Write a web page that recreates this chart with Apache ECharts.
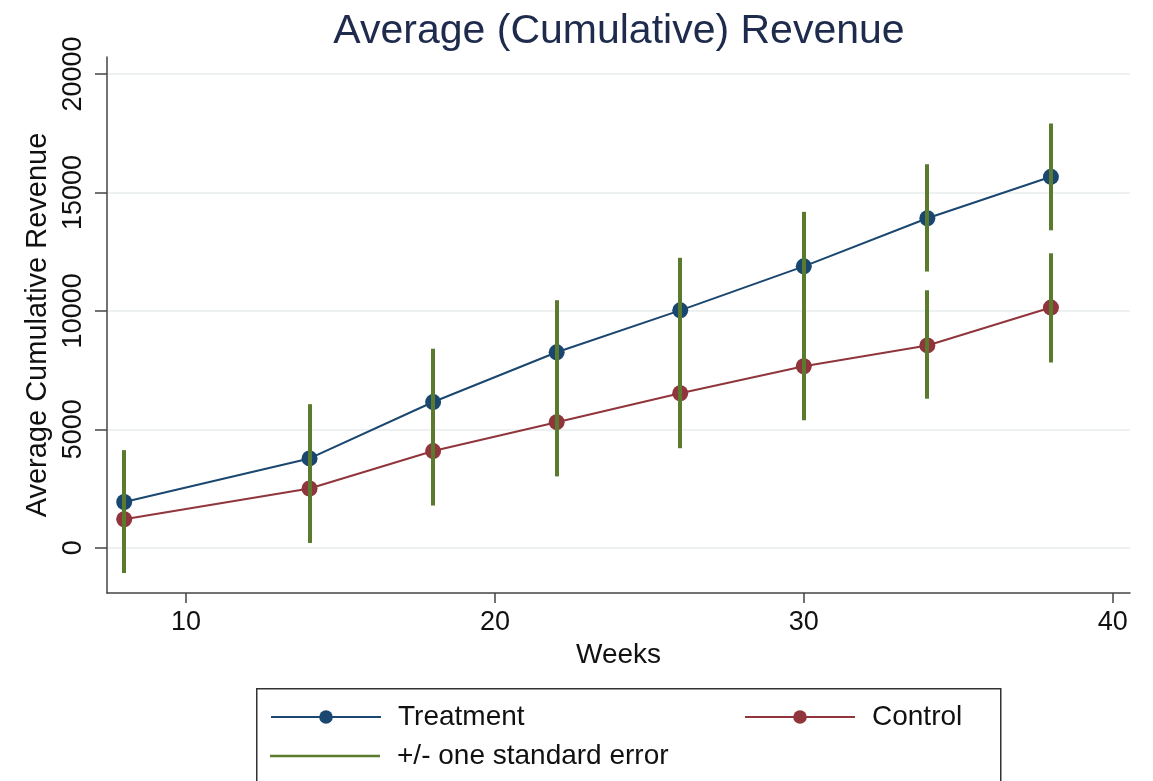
<!DOCTYPE html>
<html>
<head>
<meta charset="utf-8">
<script src="https://cdn.jsdelivr.net/npm/echarts@6/dist/echarts.min.js"></script>
<style>
  html, body { margin: 0; padding: 0; background: #ffffff; }
  #chart { width: 1153px; height: 781px; }
</style>
</head>
<body>
<div id="chart"></div>
<script>
// ---- data ----
const weeks = [8, 14, 18, 22, 26, 30, 34, 38];
const treatment = [1930, 3770, 6150, 8250, 10020, 11880, 13910, 15660];
const control = [1200, 2500, 4080, 5300, 6520, 7660, 8540, 10140];
const treatmentLower = [-260, 1480, 3900, 6050, 7800, 9580, 11660, 13400];
const treatmentUpper = [4120, 6060, 8400, 10450, 12240, 14180, 16190, 17910];
const controlLower = [-1070, 200, 1780, 3010, 4200, 5380, 6290, 7820];
const controlUpper = [3470, 4800, 6380, 7590, 8840, 9940, 10870, 12430];
const xTicks = [10, 20, 30, 40];
const yTicks = [0, 5000, 10000, 15000, 20000];

const navy = '#1a476f';
const maroon = '#90353b';
const green = '#5a7a2e';
const font = 'Liberation Sans, Arial, Helvetica, sans-serif';

const chart = echarts.init(document.getElementById('chart'), null, { renderer: 'canvas' });

// draws the two +/- SE spikes at one week; overlapping spikes are merged into one
function errBars(params, api) {
  const x = api.value(0);
  let ranges = [[api.value(1), api.value(2)], [api.value(3), api.value(4)]]
    .map(r => [Math.min(r[0], r[1]), Math.max(r[0], r[1])])
    .sort((a, b) => a[0] - b[0]);
  const merged = [];
  ranges.forEach(r => {
    const last = merged[merged.length - 1];
    if (last && r[0] <= last[1]) { last[1] = Math.max(last[1], r[1]); }
    else { merged.push([r[0], r[1]]); }
  });
  const children = merged.map(r => {
    const p1 = api.coord([x, r[0]]);
    const p2 = api.coord([x, r[1]]);
    const cx = Math.round(p1[0]);
    return {
      type: 'rect',
      shape: { x: cx - 2, y: Math.min(p1[1], p2[1]), width: 4, height: Math.abs(p1[1] - p2[1]) },
      style: { fill: green }
    };
  });
  return { type: 'group', children: children };
}

const option = {
  backgroundColor: '#ffffff',
  animation: false,
  title: {
    text: 'Average (Cumulative) Revenue',
    left: 614,
    top: 6,
    textAlign: 'center',
    textStyle: { fontFamily: font, fontSize: 41, fontWeight: 'normal', color: '#1f2b4d' }
  },
  grid: { left: 107, right: 23, top: 57, bottom: 188, containLabel: false },
  xAxis: {
    type: 'value',
    min: 7.443,
    max: 40.56,
    name: 'Weeks',
    nameLocation: 'middle',
    nameGap: 48,
    nameTextStyle: { fontFamily: font, fontSize: 28, color: '#111' },
    axisLine: { show: true, onZero: false, lineStyle: { color: '#444', width: 1.5 } },
    axisTick: { show: true, length: 10, customValues: xTicks, lineStyle: { color: '#444', width: 1.5 } },
    axisLabel: { customValues: xTicks, margin: 16, fontFamily: font, fontSize: 27, color: '#111', formatter: v => String(v) },
    splitLine: { show: false }
  },
  yAxis: {
    type: 'value',
    min: -1913,
    max: 20718,
    name: 'Average Cumulative Revenue',
    nameLocation: 'middle',
    nameGap: 54,
    nameTextStyle: { fontFamily: font, fontSize: 29, color: '#111' },
    axisLine: { show: true, onZero: false, lineStyle: { color: '#444', width: 1.5 } },
    axisTick: { show: true, length: 12, customValues: yTicks, lineStyle: { color: '#444', width: 1.5 } },
    axisLabel: { customValues: yTicks, rotate: 90, margin: 20, fontFamily: font, fontSize: 27, color: '#111', formatter: v => String(v) },
    splitLine: { show: true, lineStyle: { color: '#e8eced', width: 1.5 } }
  },
  legend: [
    {
      data: ['Treatment'], left: 270, top: 703, itemWidth: 110, itemHeight: 17,
      selectedMode: false, padding: 0,
      textStyle: { fontFamily: font, fontSize: 28, color: '#111', padding: [0, 0, 0, 12] }
    },
    {
      data: ['Control'], left: 744, top: 703, itemWidth: 110, itemHeight: 17,
      selectedMode: false, padding: 0,
      textStyle: { fontFamily: font, fontSize: 28, color: '#111', padding: [0, 0, 0, 12] }
    },
    {
      data: [{ name: '+/- one standard error', icon: 'rect' }], left: 270, top: 742, itemWidth: 110, itemHeight: 2.5,
      selectedMode: false, padding: 0,
      textStyle: { fontFamily: font, fontSize: 28, color: '#111', padding: [0, 0, 0, 12] }
    }
  ],
  graphic: [
    {
      type: 'rect', left: 256, top: 688, z: -1,
      shape: { width: 744, height: 130 },
      style: { fill: '#ffffff', stroke: '#333', lineWidth: 1.5 }
    }
  ],
  series: [
    {
      name: 'Treatment', type: 'line',
      data: weeks.map((w, i) => [w, treatment[i]]),
      symbol: 'circle', symbolSize: 16,
      lineStyle: { color: navy, width: 2 },
      itemStyle: { color: navy },
      z: 2
    },
    {
      name: 'Control', type: 'line',
      data: weeks.map((w, i) => [w, control[i]]),
      symbol: 'circle', symbolSize: 16,
      lineStyle: { color: maroon, width: 2 },
      itemStyle: { color: maroon },
      z: 2
    },
    {
      name: '+/- one standard error', type: 'custom',
      renderItem: errBars,
      encode: { x: 0, y: [1, 2, 3, 4] },
      itemStyle: { color: green },
      data: weeks.map((w, i) => [w, treatmentLower[i], treatmentUpper[i], controlLower[i], controlUpper[i]]),
      z: 3
    }
  ]
};

chart.setOption(option);
</script>
</body>
</html>
